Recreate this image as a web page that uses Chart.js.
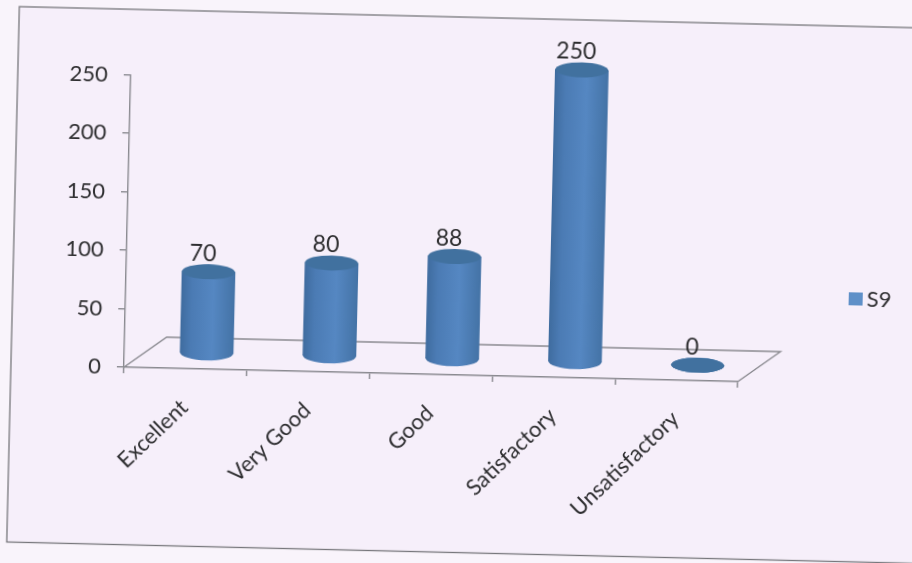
<!DOCTYPE html>
<html>
<head>
<meta charset="utf-8">
<script src="https://cdn.jsdelivr.net/npm/chart.js@4"></script>
<style>
  html, body { margin: 0; height: 100%; overflow: hidden; background: #f9f4fb; }
  /* the source is a slightly crooked scan, so the whole sheet is turned a bit */
  #sheet {
    position: absolute; left: 0; top: 0; width: 960px; height: 600px;
    transform-origin: 456px 281.5px; transform: rotate(1.35deg);
  }
</style>
</head>
<body>
<div id="sheet"><canvas id="chart" width="960" height="600"></canvas></div>
<script>
const categories = ['Excellent', 'Very Good', 'Good', 'Satisfactory', 'Unsatisfactory'];
const seriesName = 'S9';
const seriesValues = [70, 80, 88, 250, 0];
const yTicks = [0, 50, 100, 150, 200, 250];

const FONT = 'Lato, sans-serif';
const TEXT = '#2e2e30';
const AXIS = '#8a8a90';
const CYL_W = 53;
const CAP_H = 15;
const DEPTH_X = 42, DEPTH_Y = -31;      // floor depth of the fake 3D
const OFF_X = 21, OFF_Y = -15.5;        // cylinders stand in the middle of the floor

function bodyGradient(ctx, x) {
    const g = ctx.createLinearGradient(x - CYL_W / 2, 0, x + CYL_W / 2, 0);
    g.addColorStop(0, '#3f6c9f');
    g.addColorStop(0.2, '#4b7bb4');
    g.addColorStop(0.6, '#5587c2');
    g.addColorStop(1, '#4473a6');
    return g;
}

function ellipse(ctx, x, y, fill) {
    ctx.fillStyle = fill;
    ctx.beginPath();
    ctx.ellipse(x, y, CYL_W / 2, CAP_H / 2, 0, 0, Math.PI * 2);
    ctx.fill();
}

const sheetPlugin = {
    id: 'sheet',
    beforeDraw(chart) {
        const ctx = chart.ctx;
        ctx.save();
        ctx.fillStyle = '#f6effa';
        ctx.fillRect(13, 17, 1000, 535.5);
        ctx.strokeStyle = '#77777c';
        ctx.lineWidth = 1.3;
        ctx.strokeRect(13, 17, 1000, 535.5);
        ctx.restore();
    },
    beforeDatasetsDraw(chart) {
        // floor of the 3D plot
        const { left, right, bottom } = chart.chartArea;
        const ctx = chart.ctx;
        ctx.save();
        ctx.strokeStyle = AXIS;
        ctx.lineWidth = 1.4;
        ctx.beginPath();
        ctx.moveTo(left, bottom);
        ctx.lineTo(left + DEPTH_X, bottom + DEPTH_Y);
        ctx.lineTo(right + DEPTH_X, bottom + DEPTH_Y);
        ctx.lineTo(right, bottom);
        ctx.stroke();
        ctx.restore();
    },
    beforeDatasetDraw(chart) {
        const ctx = chart.ctx;
        ctx.save();
        ctx.translate(OFF_X, OFF_Y);
        chart.getDatasetMeta(0).data.forEach(bar => {
            ellipse(ctx, bar.x, bar.base, bodyGradient(ctx, bar.x));
        });
    },
    afterDatasetDraw(chart) {
        const ctx = chart.ctx;
        chart.getDatasetMeta(0).data.forEach(bar => {
            ellipse(ctx, bar.x, bar.y, '#41719f');
        });
        ctx.restore();

        // value labels over the caps
        ctx.save();
        ctx.font = '23px ' + FONT;
        ctx.fillStyle = TEXT;
        ctx.textAlign = 'center';
        ctx.textBaseline = 'middle';
        chart.getDatasetMeta(0).data.forEach((bar, i) => {
            ctx.fillText(seriesValues[i], bar.x + OFF_X - 6, bar.y + OFF_Y - 18);
        });
        ctx.restore();
    },
    afterDraw(chart) {
        // legend
        const ctx = chart.ctx;
        ctx.save();
        ctx.fillStyle = '#5f90c8';
        ctx.fillRect(849, 283, 14, 13);
        ctx.font = '22px ' + FONT;
        ctx.fillStyle = TEXT;
        ctx.textBaseline = 'middle';
        ctx.fillText(chart.data.datasets[0].label, 867, 290);
        ctx.restore();
    }
};

new Chart(document.getElementById('chart'), {
    type: 'bar',
    data: {
        labels: categories,
        datasets: [{
            label: seriesName,
            data: seriesValues,
            barThickness: CYL_W,
            borderWidth: 0,
            clip: false,
            backgroundColor: c => {
                const x = c.type === 'data' ? c.chart.scales.x.getPixelForValue(c.dataIndex) : NaN;
                return isFinite(x) ? bodyGradient(c.chart.ctx, x) : '#5587c2';
            }
        }]
    },
    options: {
        responsive: false,
        animation: false,
        devicePixelRatio: 1,
        layout: { padding: { top: 82.5, right: 220, left: 0, bottom: 0 } },
        plugins: { legend: { display: false }, tooltip: { enabled: false } },
        scales: {
            x: {
                afterFit: s => { s.height = 225; },
                border: { color: AXIS, width: 1.4 },
                grid: { drawOnChartArea: false, color: AXIS, tickLength: 6, lineWidth: 1.4 },
                ticks: {
                    color: TEXT,
                    font: { family: FONT, size: 22 },
                    minRotation: 45,
                    maxRotation: 45,
                    padding: 20,
                    autoSkip: false
                }
            },
            y: {
                min: 0,
                max: 250,
                afterFit: s => { s.width = 126; },
                afterBuildTicks: s => { s.ticks = yTicks.map(v => ({ value: v })); },
                border: { color: AXIS, width: 1.4 },
                grid: { drawOnChartArea: false, color: AXIS, tickLength: 7, lineWidth: 1.4 },
                ticks: {
                    color: TEXT,
                    font: { family: FONT, size: 22 },
                    padding: 16
                }
            }
        }
    },
    plugins: [sheetPlugin]
});
</script>
</body>
</html>
